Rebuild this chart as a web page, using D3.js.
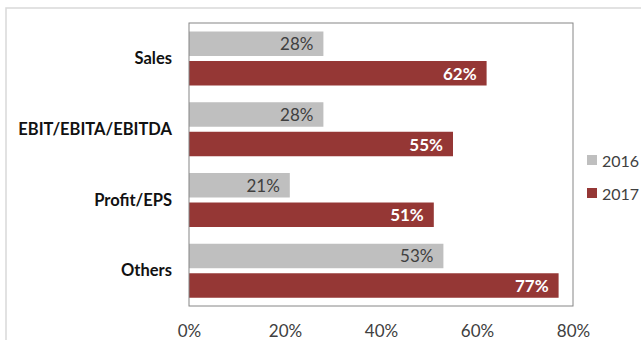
<!DOCTYPE html>
<html><head><meta charset="utf-8">
<script src="https://cdn.jsdelivr.net/npm/d3@7"></script>
<style>body{margin:0;background:#fff}svg{display:block}text{font-family:Lato,"Open Sans",sans-serif}</style>
</head><body>
<svg id="c" width="641" height="340"></svg>
<script>
const categories = ["Sales", "EBIT/EBITA/EBITDA", "Profit/EPS", "Others"];
const seriesNames = ["2016", "2017"];
const values2016 = [0.28, 0.28, 0.21, 0.53];
const values2017 = [0.62, 0.55, 0.51, 0.77];
const tickValues = [0, 0.2, 0.4, 0.6, 0.8];
const colors = {"2016": "#bfbfbf", "2017": "#953735"};

const svg = d3.select("#c");
const plot = {left: 189, right: 573, top: 23, bottom: 306};

// outer frame
svg.append("rect").attr("x", 6).attr("y", 8).attr("width", 700).attr("height", 400)
  .attr("fill", "none").attr("stroke", "#d9d9d9").attr("stroke-width", 1.5);

const x = d3.scaleLinear().domain([0, 0.8]).range([plot.left, plot.right]);
const y = d3.scaleBand().domain(categories).range([plot.top, plot.bottom]).padding(0);
const inner = d3.scaleBand().domain(seriesNames).range([8.5, 62.5]).paddingInner(0.17);

const data = [];
categories.forEach((c, i) => {
  data.push({cat: c, s: "2016", v: values2016[i]});
  data.push({cat: c, s: "2017", v: values2017[i]});
});

svg.selectAll("rect.bar").data(data).join("rect").attr("class", "bar")
  .attr("x", x(0)).attr("y", d => y(d.cat) + inner(d.s))
  .attr("width", d => x(d.v) - x(0)).attr("height", inner.bandwidth())
  .attr("fill", d => colors[d.s]);

svg.selectAll("text.lbl").data(data).join("text").attr("class", "lbl")
  .attr("x", d => x(d.v) - 10).attr("y", d => y(d.cat) + inner(d.s) + inner.bandwidth() / 2)
  .attr("text-anchor", "end").attr("dominant-baseline", "central")
  .attr("font-size", 17)
  .attr("font-weight", d => d.s === "2017" ? "bold" : "normal")
  .attr("fill", d => d.s === "2017" ? "#ffffff" : "#404040")
  .text(d => Math.round(d.v * 100) + "%");

// plot border
svg.append("rect").attr("x", plot.left).attr("y", plot.top)
  .attr("width", plot.right - plot.left).attr("height", plot.bottom - plot.top)
  .attr("fill", "none").attr("stroke", "#868686").attr("stroke-width", 1);

// category labels
svg.selectAll("text.cat").data(categories).join("text").attr("class", "cat")
  .attr("x", 172).attr("y", d => y(d) + 35)
  .attr("text-anchor", "end").attr("dominant-baseline", "central")
  .attr("font-size", 16.5).attr("font-weight", "bold").attr("fill", "#111111")
  .text(d => d);

// x axis
const xAxis = d3.axisBottom(x).tickValues(tickValues).tickSize(0).tickFormat(d3.format(".0%"));
const gx = svg.append("g").attr("transform", `translate(0,${plot.bottom + 16})`).call(xAxis);
gx.select(".domain").remove();
gx.selectAll("text").attr("font-size", 17).attr("fill", "#404040")
  .attr("font-family", "Lato, 'Open Sans', sans-serif");

// legend
const leg = svg.selectAll("g.leg").data(seriesNames).join("g").attr("class", "leg")
  .attr("transform", (d, i) => `translate(587,${160 + i * 33})`);
leg.append("rect").attr("x", 0).attr("y", -5).attr("width", 10).attr("height", 10)
  .attr("fill", d => colors[d]);
leg.append("text").attr("x", 15).attr("y", 0).attr("dominant-baseline", "central")
  .attr("font-size", 16).attr("fill", "#404040").text(d => d);
</script>
</body></html>
